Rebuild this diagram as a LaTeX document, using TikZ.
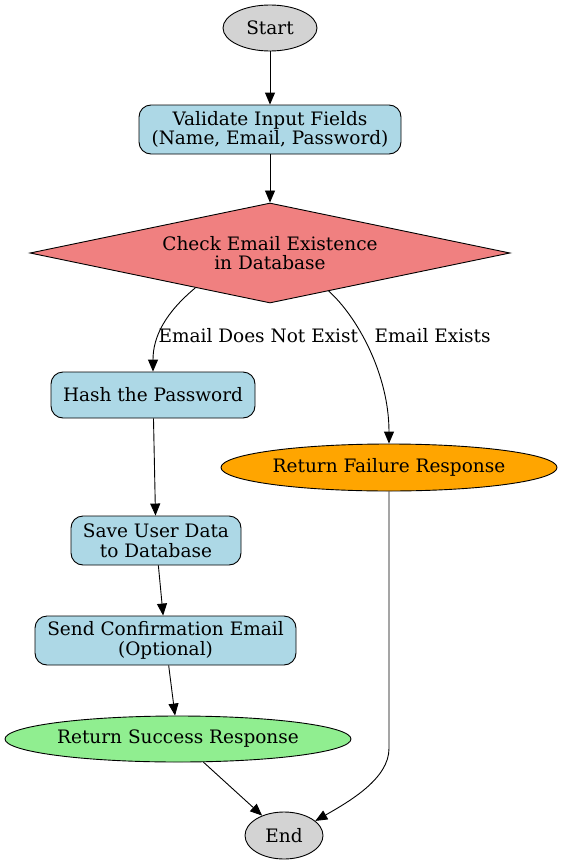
\documentclass[tikz,border=0pt]{standalone}
\usepackage{fontspec}
\setmainfont{DejaVu Serif}
\usetikzlibrary{arrows.meta,shapes.geometric}
\definecolor{hgrau}{HTML}{D3D3D3}
\definecolor{hblau}{HTML}{ADD8E6}
\definecolor{koralle}{HTML}{F08080}
\definecolor{orng}{HTML}{FFA500}
\definecolor{hgruen}{HTML}{90EE90}
\tikzset{
  pfeil/.style={-{Triangle[length=12pt,width=10pt]},black,line width=0.9pt},
  knoten/.style={draw=black,line width=0.9pt,inner sep=0pt,align=center,
    font=\fontsize{18.5}{19.7}\selectfont},
  kasten/.style={knoten,rectangle,rounded corners=12pt,fill=hblau},
  oval/.style={knoten,ellipse},
  raute/.style={knoten,diamond,fill=koralle},
  beschr/.style={font=\fontsize{18.5}{19.7}\selectfont},
}
\begin{document}
\begin{tikzpicture}[x=1pt,y=-1pt]
  \useasboundingbox (0,0) rectangle (563,867);
  % Knoten
  \node[oval,fill=hgrau,minimum width=94pt,minimum height=46pt] (start) at (270,28) {Start};
  \node[kasten,minimum width=262pt,minimum height=49pt] (pruefen) at (270,129.5) {Validate Input Fields\\(Name, Email, Password)};
  \node[raute,minimum width=480pt,minimum height=100pt,aspect=4.8] (email) at (270,253) {Check Email Existence\\in Database};
  \node[kasten,minimum width=204pt,minimum height=46pt] (hash) at (153,395) {Hash the Password};
  \node[oval,fill=orng,minimum width=336pt,minimum height=47pt] (fehler) at (389,467.5) {Return Failure Response};
  \node[kasten,minimum width=170pt,minimum height=49pt] (speichern) at (156,540.5) {Save User Data\\to Database};
  \node[kasten,minimum width=261pt,minimum height=49pt] (senden) at (165.5,640.5) {Send Confirmation Email\\(Optional)};
  \node[oval,fill=hgruen,minimum width=346pt,minimum height=46pt] (erfolg) at (178,739) {Return Success Response};
  \node[oval,fill=hgrau,minimum width=78pt,minimum height=47pt] (ende) at (284,835.5) {End};
  % Beschriftungen
  \node[beschr,anchor=west] (lnein) at (155,336) {Email Does Not Exist};
  \node[beschr,anchor=west] (lja) at (371,336) {Email Exists};
  % Pfeile
  \draw[pfeil] (start) -- (pruefen);
  \draw[pfeil] (pruefen) -- (email);
  \draw[pfeil] (email.205) .. controls +(-30,25) and +(0,-35) .. (hash.north);
  \draw[pfeil] (email.327) .. controls +(28,25) and +(0,-70) .. (fehler.north);
  \draw[pfeil] (hash) -- (speichern);
  \draw[pfeil] (speichern) -- (senden);
  \draw[pfeil] (senden) -- (erfolg);
  \draw[pfeil] (erfolg) -- (ende);
  \draw[pfeil] (fehler.south) -- ++(0,257) .. controls +(0,30) and +(35,-20) .. (ende.25);
\end{tikzpicture}
\end{document}
